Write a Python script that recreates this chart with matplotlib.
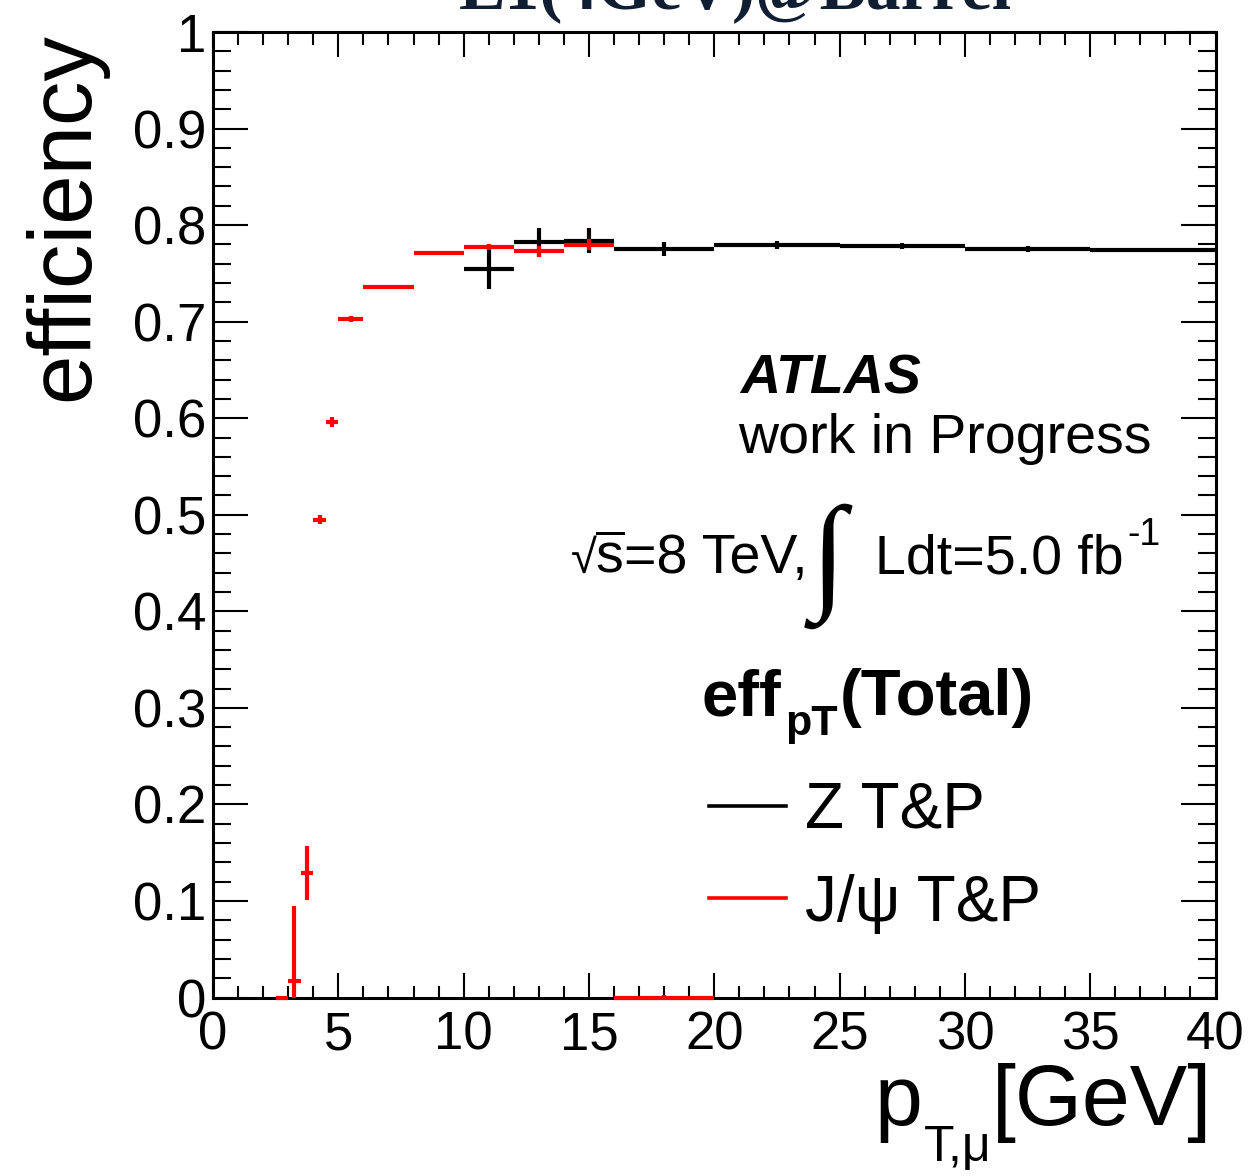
import numpy as np
import matplotlib
matplotlib.use("Agg")
import matplotlib.pyplot as plt
from matplotlib.lines import Line2D
from matplotlib.ticker import MultipleLocator

plt.rcParams['font.family'] = ['Liberation Sans', 'DejaVu Sans']
plt.rcParams['mathtext.fontset'] = 'custom'
plt.rcParams['mathtext.rm'] = 'Liberation Sans'
plt.rcParams['mathtext.it'] = 'Liberation Sans:italic'
plt.rcParams['mathtext.bf'] = 'Liberation Sans:bold'

# ---- data ----
z_edges = [10, 12, 14, 16, 20, 25, 30, 35, 40]
z_eff = [0.755, 0.782, 0.784, 0.7755, 0.7793, 0.7780, 0.7752, 0.7742]
z_err = [0.0215, 0.015, 0.0125, 0.007, 0.004, 0.003, 0.003, 0.002]

j_edges = [2.5, 3.0, 3.5, 4.0, 4.5, 5.0, 6.0, 8.0, 10.0, 12.0, 14.0, 16.0, 20.0]
j_eff = [0.0, 0.017, 0.129, 0.495, 0.596, 0.703, 0.7355, 0.7715, 0.7777, 0.7728, 0.7797, 0.0]
j_err_lo = [0.0, 0.017, 0.028, 0.005, 0.005, 0.003, 0.002, 0.002, 0.003, 0.006, 0.006, 0.0]
j_err_hi = [0.0, 0.078, 0.028, 0.005, 0.005, 0.003, 0.002, 0.002, 0.003, 0.006, 0.006, 0.003]

x_ticks = [0, 5, 10, 15, 20, 25, 30, 35, 40]
y_ticks = [0, 0.1, 0.2, 0.3, 0.4, 0.5, 0.6, 0.7, 0.8, 0.9, 1.0]
y_ticklabels = ['0', '0.1', '0.2', '0.3', '0.4', '0.5', '0.6', '0.7', '0.8', '0.9', '1']
legend_labels = ['Z T&P', 'J/\u03c8 T&P']

W, H = 1251, 1176
def fx(x):
    return x / W
def fy(y):
    return 1 - y / H

fig = plt.figure(figsize=(W / 100, H / 100), dpi=100)
ax = fig.add_axes([fx(213), fy(997.5), (1215.5 - 213) / W, (997.5 - 32) / H])
renderer = fig.canvas.get_renderer()

def centers_halfwidths(edges):
    e = np.asarray(edges, dtype=float)
    return (e[:-1] + e[1:]) / 2, (e[1:] - e[:-1]) / 2

zc, zw = centers_halfwidths(z_edges)
jc, jw = centers_halfwidths(j_edges)

ax.errorbar(zc, z_eff, xerr=zw, yerr=z_err, fmt='none', ecolor='black',
            elinewidth=3.0, capsize=0, zorder=3)
ax.errorbar(jc, j_eff, xerr=jw, yerr=[j_err_lo, j_err_hi], fmt='none', ecolor='#ff0000',
            elinewidth=3.0, capsize=0, zorder=4, clip_on=False)

ax.set_xlim(0, 40)
ax.set_ylim(0, 1)
ax.set_xticks(x_ticks)
ax.set_xticklabels([str(t) for t in x_ticks])
ax.set_yticks(y_ticks)
ax.set_yticklabels(y_ticklabels)
ax.xaxis.set_minor_locator(MultipleLocator(1))
ax.yaxis.set_minor_locator(MultipleLocator(0.02))
ax.tick_params(which='both', direction='in', top=True, right=True, width=1.5, labelsize=38)
ax.tick_params(axis='x', which='major', length=18, pad=9)
ax.tick_params(axis='x', which='minor', length=9)
ax.tick_params(axis='y', which='major', length=25, pad=5)
ax.tick_params(axis='y', which='minor', length=13)
for s in ax.spines.values():
    s.set_linewidth(2.2)


def chain(x0, y0, pieces, align='left'):
    """pieces: (text, kwargs, gap_px_before, dy_px). Baseline-aligned sequence of texts."""
    objs = []
    widths = []
    for txt, kw, gap, dy in pieces:
        t = fig.text(0, 0, txt, va='baseline', ha='left', **kw)
        bb = t.get_window_extent(renderer)
        objs.append(t)
        widths.append(bb.width)
    total = sum(w for w in widths) + sum(p[2] for p in pieces)
    x = x0 if align == 'left' else x0 - total
    for t, w, (txt, kw, gap, dy) in zip(objs, widths, pieces):
        x += gap
        t.set_position((fx(x), fy(y0 + dy)))
        x += w
    return objs


# axis titles
fig.text(fx(65), fy(32), 'efficiency', rotation=90, fontsize=64, ha='center', va='top')
chain(1212, 1125, [
    ('p', dict(fontsize=62), 0, 0),
    ('T,\u03bc', dict(fontsize=36), 2, 36),
    ('[GeV]', dict(fontsize=62), 0, 0),
], align='right')

# title (cut off at top)
fig.text(fx(735), fy(8), 'L1(4GeV)@Barrel', family='Liberation Serif', fontweight='bold',
         fontsize=50, color='#0f1e33', ha='center', va='baseline')

# ATLAS label
fig.text(fx(740), fy(394), 'ATLAS', fontsize=40, fontweight='bold', style='italic', va='baseline')
fig.text(fx(738), fy(453), 'work in Progress', fontsize=40, va='baseline')
chain(808, 573, [
    ('\u221a', dict(fontsize=34), 0, 0),
    (r'$\overline{\mathrm{s}}$', dict(fontsize=40), -2, 0),
    ('=8 TeV,', dict(fontsize=40), 0, 0),
], align='right')
fig.text(fx(811), fy(595), '\u222b', family='Liberation Serif', fontsize=92, va='baseline')
fig.text(fx(875), fy(573), 'Ldt=5.0 fb', fontsize=40, va='baseline')
fig.text(fx(1127), fy(545), '-1', fontsize=27, va='baseline')

# legend header
chain(702, 715, [
    ('eff', dict(fontsize=47, fontweight='bold'), 0, 0),
    ('pT', dict(fontsize=31, fontweight='bold'), 3, 20),
    ('(Total)', dict(fontsize=47, fontweight='bold'), 2, 0),
])

# legend entries
handles = [Line2D([], [], color='black', lw=2.6), Line2D([], [], color='#ff0000', lw=2.6)]
leg = ax.legend(handles, legend_labels,
                prop={'size': 46}, frameon=False, alignment='left',
                loc='upper left', bbox_to_anchor=(fx(709), fy(781)), bbox_transform=fig.transFigure,
                handlelength=1.2, handletextpad=0.3, labelspacing=0.51, borderpad=0.0,
                borderaxespad=0.0)

fig.savefig('out.png', dpi=100)
